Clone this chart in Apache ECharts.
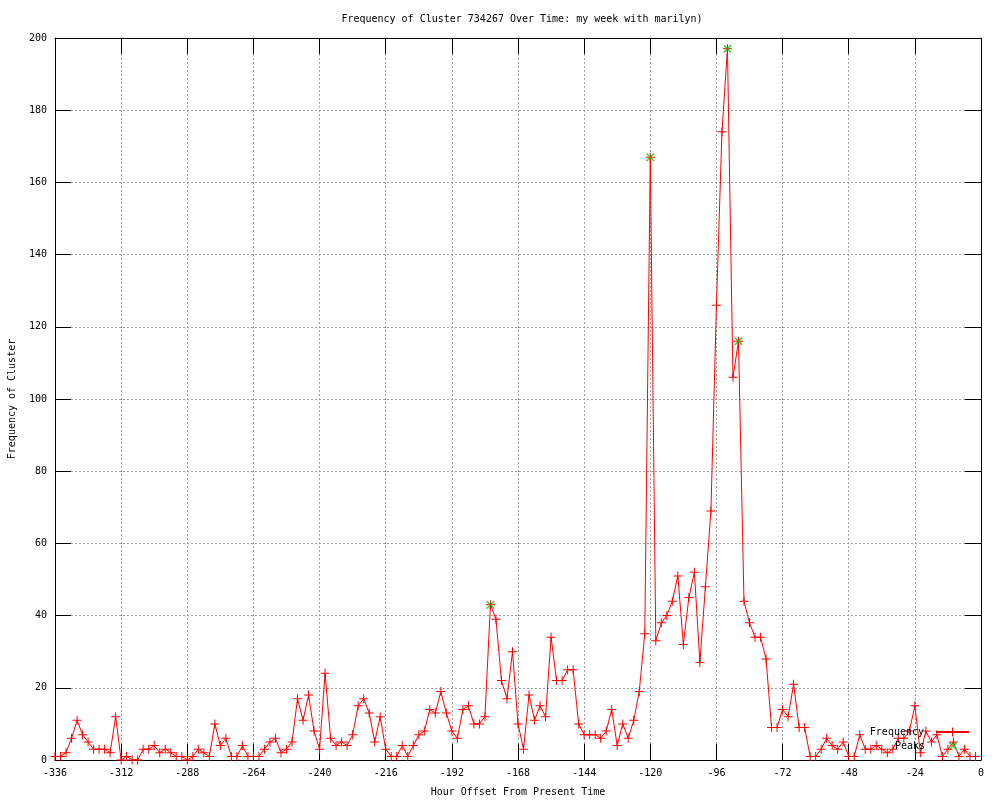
<!DOCTYPE html>
<html>
<head>
<meta charset="utf-8">
<script src="https://cdn.jsdelivr.net/npm/echarts@6/dist/echarts.min.js"></script>
<style>
  body { margin: 0; background: #fff; }
  #chart { width: 1000px; height: 800px; }
</style>
</head>
<body>
<div id="chart"></div>
<script>
// hour offsets, one point every 2 hours
var hours = [
  -336, -334, -332, -330, -328, -326, -324, -322, -320, -318, -316, -314,
  -312, -310, -308, -306, -304, -302, -300, -298, -296, -294, -292, -290,
  -288, -286, -284, -282, -280, -278, -276, -274, -272, -270, -268, -266,
  -264, -262, -260, -258, -256, -254, -252, -250, -248, -246, -244, -242,
  -240, -238, -236, -234, -232, -230, -228, -226, -224, -222, -220, -218,
  -216, -214, -212, -210, -208, -206, -204, -202, -200, -198, -196, -194,
  -192, -190, -188, -186, -184, -182, -180, -178, -176, -174, -172, -170,
  -168, -166, -164, -162, -160, -158, -156, -154, -152, -150, -148, -146,
  -144, -142, -140, -138, -136, -134, -132, -130, -128, -126, -124, -122,
  -120, -118, -116, -114, -112, -110, -108, -106, -104, -102, -100, -98,
  -96, -94, -92, -90, -88, -86, -84, -82, -80, -78, -76, -74,
  -72, -70, -68, -66, -64, -62, -60, -58, -56, -54, -52, -50,
  -48, -46, -44, -42, -40, -38, -36, -34, -32, -30, -28, -26,
  -24, -22, -20, -18, -16, -14, -12, -10, -8, -6, -4, -2
];
var frequency = [
  1, 1, 2, 6, 11, 7, 5, 3, 3, 3, 2, 12,
  0, 1, 0, 0, 3, 3, 4, 2, 3, 2, 1, 1,
  0, 1, 3, 2, 1, 10, 4, 6, 1, 1, 4, 1,
  1, 1, 3, 5, 6, 2, 3, 5, 17, 11, 18, 8,
  3, 24, 6, 4, 5, 4, 7, 15, 17, 13, 5, 12,
  3, 1, 1, 4, 1, 4, 7, 8, 14, 13, 19, 13,
  8, 6, 14, 15, 10, 10, 12, 43, 39, 22, 17, 30,
  10, 3, 18, 11, 15, 12, 34, 22, 22, 25, 25, 10,
  7, 7, 7, 6, 8, 14, 4, 10, 6, 11, 19, 35,
  167, 33, 38, 40, 44, 51, 32, 45, 52, 27, 48, 69,
  126, 174, 197, 106, 116, 44, 38, 34, 34, 28, 9, 9,
  14, 12, 21, 9, 9, 1, 1, 3, 6, 4, 3, 5,
  1, 1, 7, 3, 3, 4, 3, 2, 3, 6, 6, 8,
  15, 2, 8, 5, 7, 1, 3, 5, 1, 3, 1, 1
];
var peakHours = [-178, -120, -92, -88];
var peakValues = [43, 167, 197, 116];

var freqData = hours.map(function (h, i) { return [h, frequency[i]]; });
var peakData = peakHours.map(function (h, i) { return [h, peakValues[i]]; });

var mono = "DejaVu Sans Mono";
var plusIcon = "path://M0,4H9V5H0Z M4,0H5V9H4Z";
var crossIcon = "path://M0,0L1,0L8,7L8,8L7,8L0,1Z M8,0L8,1L1,8L0,8L0,7L7,0Z";

var myChart = echarts.init(document.getElementById("chart"));

var tickStyle = { show: true, inside: true, length: 16, lineStyle: { color: "#000", width: 1 } };
// onZero off, otherwise the mirrored axes jump to the zero line
var lineBlack = { show: true, onZero: false, lineStyle: { color: "#000", width: 1 } };
var gridLine = { show: true, lineStyle: { color: "#a0a0a0", width: 1, type: [2, 2] } };

var option = {
  animation: false,
  backgroundColor: "#fff",
  title: {
    text: "Frequency of Cluster 734267 Over Time: my week with marilyn)",
    left: 517,
    top: 9,
    textAlign: "center",
    textStyle: { fontFamily: mono, fontSize: 10, fontWeight: "normal", color: "#000" }
  },
  legend: [
    {
      data: ["Frequency"],
      right: 30,
      top: 727,
      align: "right",
      itemWidth: 33,
      itemHeight: 11,
      padding: 0,
      textStyle: { fontFamily: mono, fontSize: 10, color: "#000", padding: [0, 7, 0, 0] }
    },
    {
      data: [{ name: "Peaks", icon: crossIcon }],
      right: 43,
      top: 741,
      align: "right",
      itemWidth: 8,
      itemHeight: 8,
      padding: 0,
      textStyle: { fontFamily: mono, fontSize: 10, color: "#000", padding: [0, 19, 0, 0] }
    }
  ],
  grid: { left: 55, right: 19, top: 38, bottom: 40, containLabel: false, outerBoundsMode: "none" },
  xAxis: [
    {
      type: "value",
      min: -336,
      max: 0,
      interval: 24,
      name: "Hour Offset From Present Time",
      nameLocation: "middle",
      nameGap: 27,
      nameTextStyle: { fontFamily: mono, fontSize: 10, color: "#000" },
      axisLine: lineBlack,
      axisTick: tickStyle,
      axisLabel: { fontFamily: mono, fontSize: 10, color: "#000", margin: 8 },
      splitLine: gridLine
    },
    {
      type: "value",
      position: "top",
      min: -336,
      max: 0,
      interval: 24,
      axisLine: lineBlack,
      axisTick: tickStyle,
      axisLabel: { show: false },
      splitLine: { show: false }
    }
  ],
  yAxis: [
    {
      type: "value",
      position: "left",
      min: 0,
      max: 200,
      interval: 20,
      name: "Frequency of Cluster",
      nameLocation: "middle",
      nameGap: 38,
      nameTextStyle: { fontFamily: mono, fontSize: 10, color: "#000" },
      axisLine: lineBlack,
      axisTick: tickStyle,
      axisLabel: { fontFamily: mono, fontSize: 10, color: "#000", margin: 8 },
      splitLine: gridLine
    },
    {
      type: "value",
      position: "right",
      min: 0,
      max: 200,
      interval: 20,
      axisLine: lineBlack,
      axisTick: tickStyle,
      axisLabel: { show: false },
      splitLine: { show: false }
    }
  ],
  series: [
    {
      name: "Frequency",
      type: "line",
      data: freqData,
      symbol: plusIcon,
      symbolSize: 9,
      showAllSymbol: true,
      itemStyle: { color: "#ff0000" },
      lineStyle: { color: "#ff0000", width: 1 },
      emphasis: { disabled: true },
      z: 2
    },
    {
      name: "Peaks",
      type: "scatter",
      data: peakData,
      symbol: crossIcon,
      symbolSize: 8,
      itemStyle: { color: "#00c000" },
      emphasis: { disabled: true },
      z: 3
    }
  ]
};

myChart.setOption(option);
</script>
</body>
</html>
